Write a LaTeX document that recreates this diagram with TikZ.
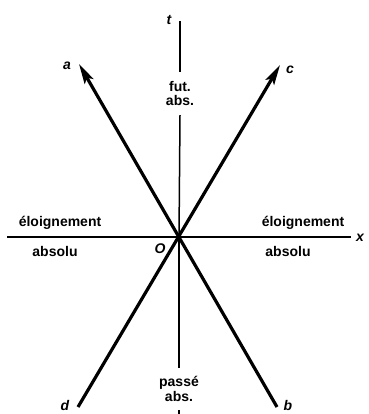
\documentclass[tikz,border=0pt]{standalone}
\usepackage{fontspec}
\setmainfont{Liberation Sans}
\usetikzlibrary{arrows.meta}
\begin{document}
\begin{tikzpicture}[x=1pt,y=-1pt,
  lbl/.style={font=\fontsize{14}{14.5}\selectfont\bfseries, inner sep=0pt, align=center},
  letter/.style={font=\fontsize{14}{15}\selectfont\bfseries\itshape, inner sep=0pt},
  axis/.style={line width=1.5pt},
  world/.style={line width=3.2pt},
  arr/.style={world, -{Stealth[length=20pt,width=10pt,inset=4pt]}}]
\useasboundingbox (0,0) rectangle (368,414);
\coordinate (O) at (179,237);
\coordinate (ttop) at (180,21);
\coordinate (tbot) at (179,414);
\coordinate (xl) at (7,237);
\coordinate (xr) at (351,237);
\coordinate (a) at (79,64);
\coordinate (b) at (277,407);
\coordinate (c) at (280,65);
\coordinate (d) at (78,407);
% time axis with labels
\node[lbl, minimum height=43pt] (fut) at (180,93.5) {fut.\\abs.};
\node[lbl, minimum height=42pt] (passe) at (179,389) {passé\\abs.};
\draw[axis] (ttop) -- (fut.north);
\draw[axis] (fut.south) -- (O);
\draw[axis] (O) -- (passe.north);
\draw[axis] (passe.south) -- (tbot);
% x axis
\draw[axis] (xl) -- (xr);
% world lines
\draw[arr] (b) -- (a);
\draw[arr] (d) -- (c);
% labels
\node[letter] (tl) at (169,20) {t};
\node[letter] (xlab) at (360,238) {x};
\node[letter] (Ol) at (160,249) {O};
\node[letter] (al) at (67,66) {a};
\node[letter] (cl) at (290,70) {c};
\node[letter] (dl) at (65,405) {d};
\node[letter] (bl) at (288,405) {b};
\node[lbl] (el1) at (60,223) {éloignement};
\node[lbl] (ab1) at (55,251) {absolu};
\node[lbl] (el2) at (303,223) {éloignement};
\node[lbl] (ab2) at (288,251) {absolu};
\end{tikzpicture}
\end{document}
